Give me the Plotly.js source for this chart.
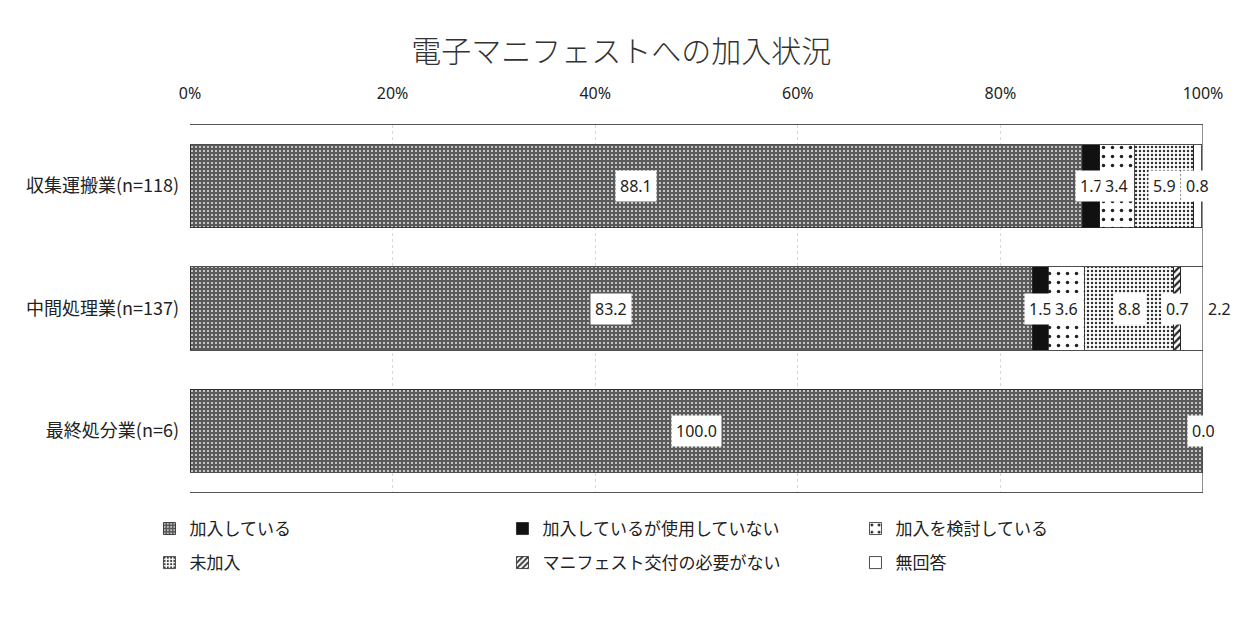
<!DOCTYPE html>
<html><head><meta charset="utf-8">
<script src="https://cdn.plot.ly/plotly-3.0.1.min.js"></script>
<style>html,body{margin:0;padding:0;background:#fff}#chart{width:1235px;height:617px}</style>
</head><body><div id="chart"></div>
<script>
const categories = ['収集運搬業(n=118)', '中間処理業(n=137)', '最終処分業(n=6)'];
const seriesNames = ['加入している', '加入しているが使用していない', '加入を検討している', '未加入', 'マニフェスト交付の必要がない', '無回答'];
const joined      = [88.1, 83.2, 100.0];
const joinedUnused = [1.7, 1.5, 0];
const considering = [3.4, 3.6, 0];
const notJoined   = [5.9, 8.8, 0];
const notNeeded   = [0, 0.7, 0];
const noAnswer    = [0.8, 2.2, 0.0];
const tickVals = [0, 20, 40, 60, 80, 100];
const tickText = ['0%', '20%', '40%', '60%', '80%', '100%'];

const values = [joined, joinedUnused, considering, notJoined, notNeeded, noAnswer];
const styles = [
  {color:'#7a7a7a', pattern:{shape:'.', fgcolor:'#e8e8e8', bgcolor:'#5a5a5a', size:4, solidity:0.2}},
  {color:'#111111'},
  {color:'#ffffff', pattern:{shape:'.', fgcolor:'#222222', bgcolor:'#ffffff', size:9, solidity:0.12}},
  {color:'#ffffff', pattern:{shape:'.', fgcolor:'#333333', bgcolor:'#ffffff', size:4, solidity:0.3}},
  {color:'#ffffff', pattern:{shape:'/', fgcolor:'#222222', bgcolor:'#ffffff', size:5, solidity:0.45}},
  {color:'#ffffff'}
];

const traces = seriesNames.map((name, i) => ({
  type:'bar', orientation:'h', name:name,
  x: values[i], y: categories,
  width: 0.68,
  legend: i < 3 ? 'legend' : 'legend2',
  marker: Object.assign({line:{color:'#222', width:0.8}}, styles[i]),
  hoverinfo:'x+name'
}));

const annotations = [];
categories.forEach((cat, r) => {
  let cum = 0;
  values.forEach((arr, i) => {
    const v = arr[r];
    const mid = cum + v / 2;
    cum += v;
    const isLast = i === values.length - 1;
    if (v > 0 || isLast) {
      annotations.push({
        x: mid, y: cat, xref:'x', yref:'y',
        text: v.toFixed(1), showarrow:false,
        bgcolor:'#ffffff', borderpad:4,
        xshift: (isLast && v > 1.5) ? 28 : 0,
        font:{family:'Noto Sans, sans-serif', size:16, color:'#222'}
      });
    }
  });
});

const legendFont = {family:'Noto Sans CJK JP, sans-serif', size:17, color:'#222'};
const layout = {
  width:1235, height:617,
  paper_bgcolor:'#fff', plot_bgcolor:'#fff',
  margin:{l:190, r:32, t:125, b:125},
  barmode:'stack', bargap:0.32,
  title:{text:'電子マニフェストへの加入状況', x:0.503, xanchor:'center', y:0.916, yanchor:'middle',
         font:{family:'Noto Sans CJK JP, sans-serif', size:30, color:'#333', weight:300}},
  xaxis:{side:'top', range:[0,100], tickvals:tickVals, ticktext:tickText,
         showgrid:true, gridcolor:'#d8d8d8', griddash:'dot', zeroline:false,
         showline:true, mirror:true, linecolor:'#555', linewidth:1.2,
         ticks:'', ticklabelstandoff:18,
         tickfont:{family:'Noto Sans, sans-serif', size:16, color:'#222'}, fixedrange:true},
  yaxis:{autorange:'reversed', showgrid:false, zeroline:false, showline:false, ticks:'',
         ticklabelstandoff:10,
         tickfont:{family:'Noto Sans CJK JP, sans-serif', size:18, color:'#222'}},
  legend:{orientation:'h', x:-0.04, xanchor:'left', y:-0.1008, yanchor:'middle',
          entrywidth:308, traceorder:'normal', font:legendFont, itemwidth:30},
  legend2:{orientation:'h', x:-0.04, xanchor:'left', y:-0.1935, yanchor:'middle',
          entrywidth:308, traceorder:'normal', font:legendFont, itemwidth:30},
  shapes:[{type:'line', xref:'x', yref:'paper', x0:100, x1:100, y0:0, y1:1, line:{color:'#444', width:1.2}}],
  annotations: annotations,
  showlegend:true
};
Plotly.newPlot('chart', traces, layout, {displayModeBar:false, staticPlot:true});
</script></body></html>
